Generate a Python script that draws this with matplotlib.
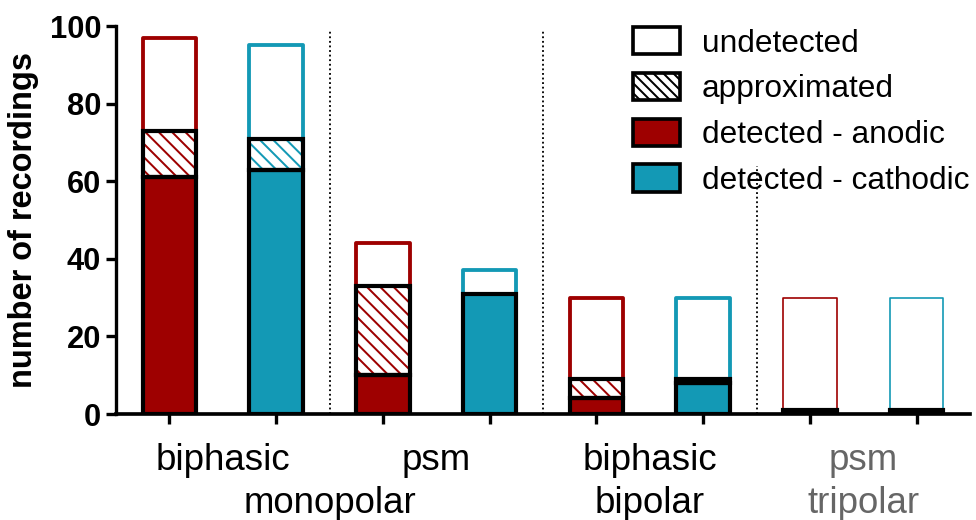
import matplotlib
matplotlib.use("Agg")
import matplotlib.pyplot as plt
from matplotlib.patches import Patch
import numpy as np

plt.rcParams['font.family'] = ['Liberation Sans', 'DejaVu Sans']
plt.rcParams['hatch.linewidth'] = 1.2

# ---- data ----
polarity = ["anodic", "cathodic", "anodic", "cathodic", "anodic", "cathodic", "anodic", "cathodic"]
detected = [61, 63, 10, 31, 4, 8, 0, 0]
approximated = [12, 8, 23, 0, 5, 1, 1, 1]
undetected = [24, 24, 11, 6, 21, 21, 29, 29]
waveform_labels = ["biphasic", "psm", "biphasic", "psm"]
config_labels = ["monopolar", "bipolar", "tripolar"]
yticks = [0, 20, 40, 60, 80, 100]
legend_labels = ["undetected", "approximated", "detected - anodic", "detected - cathodic"]

RED = "#9E0000"
CYAN = "#1399B5"
colors = {"anodic": RED, "cathodic": CYAN}

DPI = 120
fig = plt.figure(figsize=(976 / DPI, 520 / DPI), dpi=DPI)
ax = fig.add_axes([116 / 976, 1 - 414 / 520, 854 / 976, 388 / 520])

x = np.arange(len(detected))
det = np.array(detected, float)
app = np.array(approximated, float)
und = np.array(undetected, float)
top_app = det + app
width = 0.5

for i in range(len(x)):
    c = colors[polarity[i]]
    thin = i >= 6
    # undetected part: coloured outline
    ax.bar(x[i], und[i], width, bottom=top_app[i], facecolor="white", edgecolor=c,
           linewidth=1.0 if thin else 2.3, zorder=2, joinstyle="round")
    # detected fill
    ax.bar(x[i], det[i], width, bottom=0, facecolor=c, edgecolor="none", linewidth=0, zorder=3)
    # approximated hatch
    ax.bar(x[i], app[i], width, bottom=det[i], facecolor="white", edgecolor=c,
           hatch="\\\\\\", linewidth=0, zorder=3)
    # black outlines
    if det[i] > 0:
        ax.bar(x[i], det[i], width, bottom=0, fill=False, edgecolor="black", linewidth=2.5, zorder=4)
    if app[i] > 0:
        ax.bar(x[i], app[i], width, bottom=det[i], fill=False, edgecolor="black", linewidth=2.5, zorder=4)

# group separators
ax.vlines([1.5, 3.5], 0, 99, colors="black", linestyles=(0, (1, 1.5)), linewidth=1.1, zorder=1, clip_on=False)
ax.vlines([5.5], 0, 64, colors="black", linestyles=(0, (1, 1.5)), linewidth=1.1, zorder=1, clip_on=False)

ax.set_xlim(-0.5, 7.5)
ax.set_ylim(0, 100)
ax.set_yticks(yticks)
ax.set_yticklabels([str(t) for t in yticks], fontsize=18.5, fontweight="bold")
ax.set_xticks(x)
ax.set_xticklabels([])
ax.tick_params(axis="both", direction="out", length=6, width=2.0, color="black", pad=3)
for s in ["top", "right"]:
    ax.spines[s].set_visible(False)
ax.spines["left"].set_linewidth(2.0)
ax.spines["bottom"].set_linewidth(2.2)
ax.spines["bottom"].set_zorder(5)
ax.set_ylabel("number of recordings", fontsize=19.5, fontweight="bold", labelpad=6)

# group labels
trans = matplotlib.transforms.blended_transform_factory(ax.transData, fig.transFigure)
row1_y = 1 - 470 / 520
row2_y = 1 - 513 / 520
for k, lab in enumerate(waveform_labels):
    xp = 2 * k + 0.5
    ax.text(xp, row1_y, lab, transform=trans, ha="center", va="baseline", fontsize=22,
            color="#666666" if k == 3 else "black")
cfg_pos = [1.5, 4.5, 6.5]
for k, lab in enumerate(config_labels):
    ax.text(cfg_pos[k], row2_y, lab, transform=trans, ha="center", va="baseline", fontsize=22,
            color="#666666" if k == 2 else "black")

handles = [
    Patch(facecolor="white", edgecolor="black", linewidth=2.2),
    Patch(facecolor="white", edgecolor="black", linewidth=2.2, hatch="\\\\\\\\"),
    Patch(facecolor=RED, edgecolor="black", linewidth=2.2),
    Patch(facecolor=CYAN, edgecolor="black", linewidth=2.2),
]
fig.legend(handles, legend_labels, loc="upper left", bbox_to_anchor=(633 / 976, 1 - 27 / 520),
           frameon=False, fontsize=19, handlelength=1.48, handleheight=0.95,
           handletextpad=0.7, labelspacing=0.45, borderpad=0, borderaxespad=0)

fig.savefig("out.png", dpi=DPI)
